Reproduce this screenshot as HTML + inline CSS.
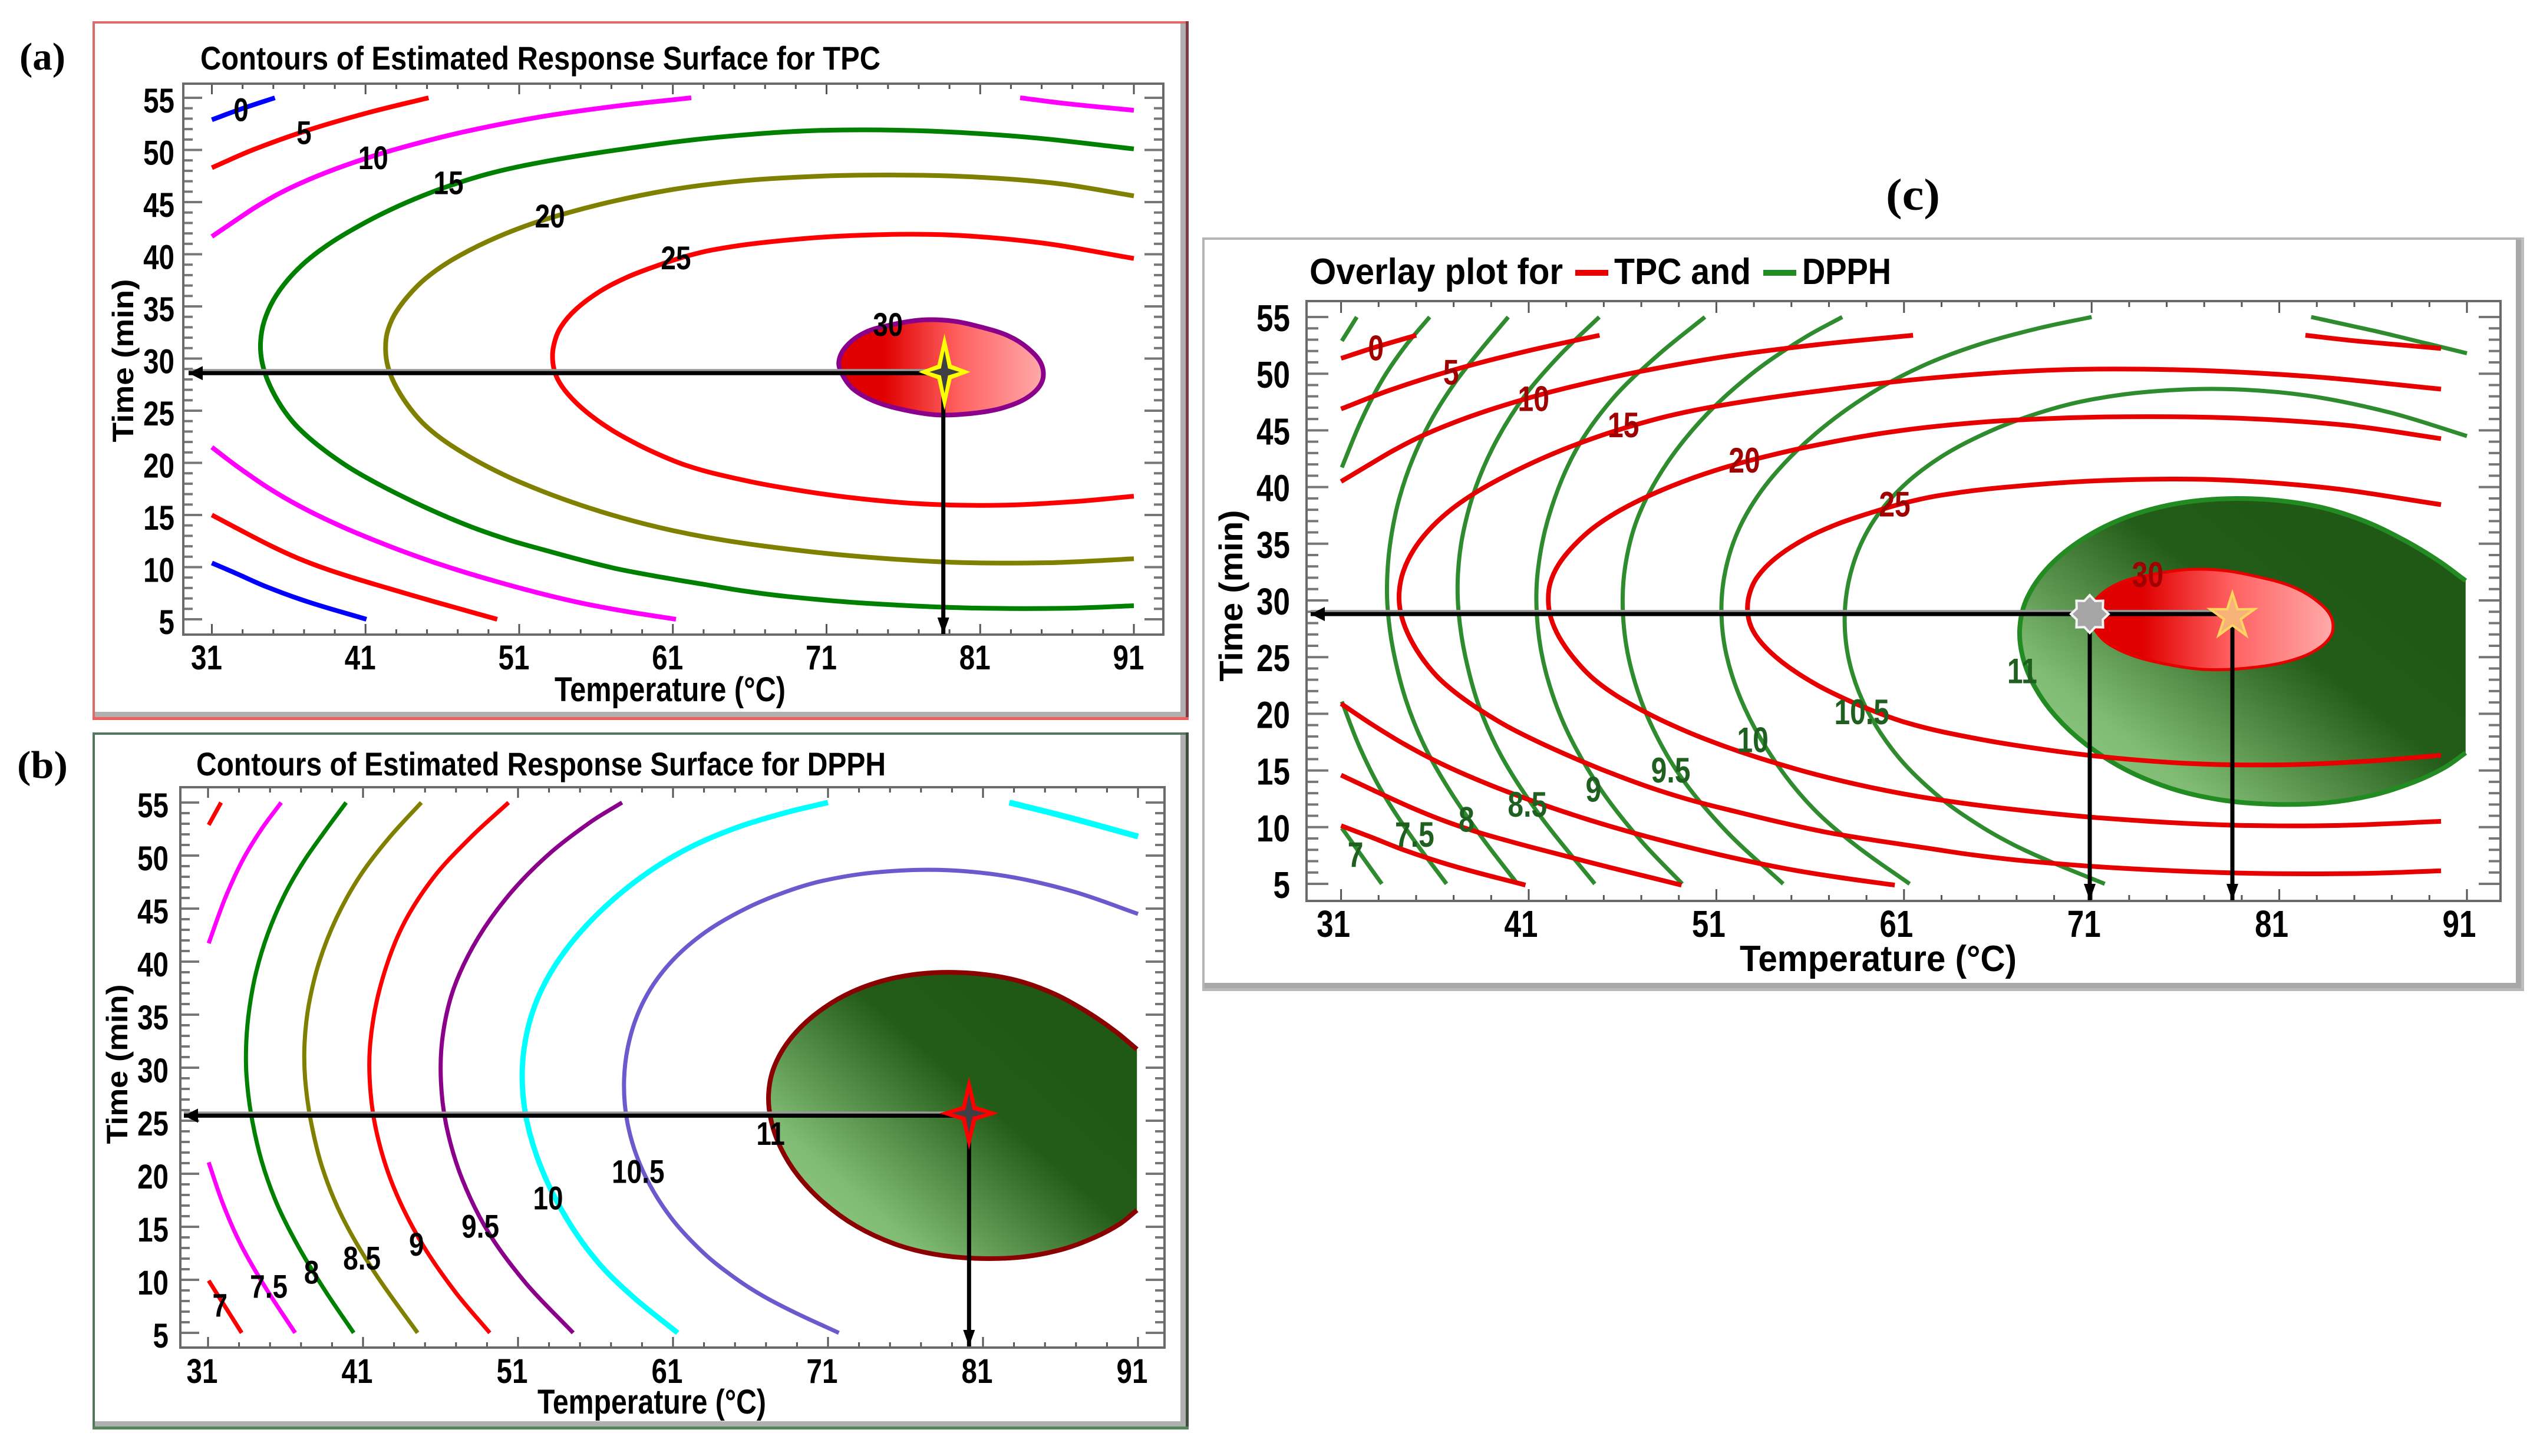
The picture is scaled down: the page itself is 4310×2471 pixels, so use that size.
<!DOCTYPE html>
<html lang="en">
<head>
<meta charset="utf-8">
<title>Contour plots for TPC and DPPH</title>
<style>
html,body{margin:0;padding:0;background:#fff;}
svg{display:block;}
text{font-family:"Liberation Sans",sans-serif;}
</style>
</head>
<body>
<svg id="figure" xmlns="http://www.w3.org/2000/svg" width="4310" height="2471" viewBox="0 0 4310 2471">
<defs>
<linearGradient id="redFill" x1="0" y1="0" x2="1" y2="0">
<stop offset="0" stop-color="#e00000"/><stop offset="0.22" stop-color="#e00000"/><stop offset="0.58" stop-color="#ff6060"/><stop offset="1" stop-color="#ffaaaa"/>
</linearGradient>
<linearGradient id="greenFill" x1="0.12" y1="0.88" x2="0.78" y2="0.3">
<stop offset="0" stop-color="#8cc67e"/><stop offset="0.18" stop-color="#80bb73"/><stop offset="0.72" stop-color="#235c18"/><stop offset="1" stop-color="#205816"/>
</linearGradient>
</defs>
<rect x="0" y="0" width="4310" height="2471" fill="#ffffff"/>
<g id="panelA"></g>
<g id="panelB"></g>
<g id="panelC"></g>
</svg>
<script>
// ---- tick labels ----
const xTickLabels = [31, 41, 51, 61, 71, 81, 91];
const yTickLabels = [5, 10, 15, 20, 25, 30, 35, 40, 45, 50, 55];

// ---- TPC contours [temperature, time] ----
const tpc0Upper = [[31,52.9],[32.75,53.9],[35.1,55]];
const tpc0Lower = [[31,10.4],[32.55,9.48],[34.31,8.18],[36.85,6.74],[41.06,5]];
const tpc5Upper = [[31,48.3],[33.3,49.9],[37,51.9],[41.3,53.7],[45.1,55]];
const tpc5Lower = [[31,15],[32.55,13.8],[34.9,11.93],[36.46,10.92],[38.42,9.76],[40.37,8.9],[42.33,8.04],[45.27,6.74],[49.57,5]];
const tpc10Upper = [[31,41.7],[32.55,43.2],[33.72,44.5],[35.48,45.94],[37.44,47.38],[40.77,49.11],[42.3,49.8],[47.3,51.9],[52.3,53.2],[57.3,54.3],[62.2,55]];
const tpc10Lower = [[31,21.5],[32.55,19.71],[34.5,17.69],[36.46,15.96],[39.2,13.95],[41.94,12.36],[44.68,10.77],[46.63,9.91],[49.37,8.61],[52.11,7.6],[55.05,6.45],[57.98,5.73],[61.2,5]];
const tpc10Right = [[83.6,55],[85.8,54.5],[91,53.8]];
const tpc15 = [[91,50.1],[84.4,51.4],[76.4,52],[70.3,52],[63.3,51.4],[56.2,49.7],[52.11,48.83],[49.18,47.9],[46.24,46.52],[44.29,45.37],[41.94,43.92],[39.98,42.2],[38.42,40.9],[37.05,39.3],[35.88,37.6],[34.9,35.6],[34.31,33.55],[34.08,31.53],[34.21,29.8],[34.5,28.07],[35.29,25.76],[36.27,23.75],[37.24,22.45],[38.61,20.86],[39.98,19.42],[41.94,17.84],[44.29,16.11],[46.24,14.81],[48.2,13.66],[50.35,12.5],[52.7,11.64],[54.85,10.77],[57.2,9.76],[60.33,9.04],[63.22,8.3],[65.3,7.75],[68,7.2],[72.4,6.6],[79.9,5.9],[87.4,6],[91,6.3]];
const tpc20 = [[91,45.6],[86.4,47],[79.9,47.6],[72.4,47.7],[67,47.3],[63.22,46.72],[60.9,46.23],[57.2,45.22],[53.97,43.92],[51.33,42.77],[49.18,41.47],[46.24,39.31],[44.87,37.73],[43.7,36],[42.72,34.12],[42.33,32.39],[42.23,30.81],[42.43,29.22],[42.72,27.78],[43.7,25.48],[44.68,23.75],[45.85,22.3],[47.42,20.86],[48.79,19.71],[50.74,18.27],[53.68,16.54],[57,14.95],[59.94,13.8],[63.22,12.79],[66.3,12.1],[72.4,11],[78.9,10.3],[85.9,10.3],[91,10.8]];
const tpc25 = [[91,39.6],[84.9,41.4],[78.4,42.1],[72.4,41.9],[66.3,41.2],[63.22,40.32],[61.89,39.9],[59.94,38.88],[57.98,37.87],[56.42,36.72],[54.46,34.7],[53.58,32.97],[53.13,31.24],[53.13,29.51],[53.38,28.07],[54.07,26.63],[55.24,24.9],[57,23.02],[58.76,21.73],[60.33,20.57],[61.89,19.71],[63.22,19.1],[67.3,17.7],[72.4,16.6],[77.4,15.9],[82.4,15.8],[87.4,16.25],[91,16.8]];
const tpc30 = [[71.8,29.7],[72.3,31.2],[73.5,32.5],[75.1,33.2],[77.2,33.7],[79.2,33.6],[81.1,33],[82.8,32.2],[84.1,31],[85,29.4],[85,27.7],[84,26.2],[82.3,25.2],[80.2,24.7],[78.2,24.6],[76.3,25],[74.3,25.8],[72.8,27],[72.05,28.4]];
const tpcLabelTexts = ['0','5','10','15','20','25','30'];
const tpcLabelPoints = [[32.9,53.9],[37,51.7],[41.5,49.3],[46.4,46.9],[53,43.7],[61.2,39.7],[75,33.3]];
const tpcOptimum = [78.6, 28.6];

// ---- DPPH contours [temperature, time] ----
const dpph7Upper = [[31.04,52.89],[31.84,55]];
const dpph7Lower = [[31.04,9.92],[33.17,5]];
const dpph75Upper = [[31.04,41.73],[32.08,46.23],[33.17,49.56],[34.39,52.56],[35.72,55]];
const dpph75Lower = [[31.04,21.08],[31.96,16.91],[32.93,13.58],[34.63,9.25],[36.62,5]];
const dpph8 = [[39.91,55],[38.51,52.22],[37.05,49.39],[35.84,46.23],[34.75,42.56],[34.02,38.9],[33.61,35.57],[33.42,32.24],[33.42,29.57],[33.66,25.91],[34.39,20.91],[35.36,17.25],[36.57,13.58],[38.51,8.92],[40.4,5]];
const dpph85 = [[44.76,55],[42.63,51.72],[40.69,48.23],[39.24,44.23],[38.02,39.9],[37.42,35.9],[37.17,32.24],[37.17,29.24],[37.54,25.24],[38.27,20.24],[39.48,16.25],[41.42,10.92],[44.52,5]];
const dpph9 = [[50.39,55],[47.97,51.89],[45.3,47.89],[43.36,43.56],[41.9,37.57],[41.3,31.9],[41.37,27.91],[41.9,22.91],[42.87,18.58],[44.81,12.92],[47,8.59],[49.18,5]];
const dpph95 = [[57.71,55],[56.21,53.82],[52.81,50.22],[50.63,46.89],[48.21,42.23],[46.63,37.57],[46.03,32.9],[45.9,28.9],[46.27,24.24],[47.24,19.58],[48.93,14.25],[51.36,9.59],[54.56,5]];
const dpph10Main = [[71,55],[68.53,54.22],[64.94,52.72],[62.03,50.89],[59.12,48.39],[56.21,44.9],[53.78,40.9],[52.33,37.23],[51.48,33.57],[51.12,29.57],[51.36,25.24],[52.33,20.58],[54.03,15.58],[56.21,11.25],[58.15,8.59],[61.3,5]];
const dpph10Right = [[82.7,55],[86.2,53.8],[89.2,52.5],[91,51.8]];
const dpph105 = [[91,44.5],[87.2,46.7],[82.2,48.4],[78.2,48.8],[73.7,48.6],[70.3,47.6],[68.53,46.73],[65.67,45.23],[63,42.9],[60.82,40.23],[59.12,36.9],[58.15,33.24],[57.66,28.9],[57.91,24.58],[58.88,20.24],[60.57,15.91],[63,12.25],[65.18,9.92],[66.88,8.35],[68.53,7.09],[71.7,5]];
const dpph11 = [[90.93,31.74],[89.66,33.43],[87.84,35.2],[85.66,37.1],[83.3,38.4],[80.56,38.98],[77.83,39.12],[75.1,38.6],[72.38,37.3],[70.2,35.3],[68.37,32.73],[67.37,30.15],[67.06,27.57],[67.19,25.2],[67.83,22.4],[68.92,19.84],[70.56,17.26],[72.74,14.88],[75.29,13.19],[77.83,12.3],[80.2,11.94],[83.66,11.94],[86,12.7],[88.39,14],[90,15.27],[90.93,16.56]];
const dpphLabelTexts = ['7','7.5','8','8.5','9','9.5','10','10.5','11'];
const dpphLabelPoints = [[31.77,7.65],[34.92,9.42],[37.68,10.75],[40.93,12.08],[44.45,13.4],[48.57,15.08],[52.94,17.75],[58.75,20.24],[67.3,23.84]];
const dpphOptimum = [80.1, 25.7];

// ---- overlay optimum ----
const overlayTpcPoint = [78.5, 28.8];
const overlayDpphPoint = [70.9, 28.8];

const SVGNS = 'http://www.w3.org/2000/svg';
function make(tag, parent, name) {
  const el = document.createElementNS(SVGNS, tag);
  
  
  parent.appendChild(el);
  return el;
}
function setAll(el, attrs) { for (const k in attrs) el.setAttribute(k, attrs[k]); return el; }

function axisScale(a) {
  const sx = (a.x91 - a.x31) / 60, sy = (a.y5 - a.y55) / 50;
  return {
    x: T => a.x31 + (T - 31) * sx,
    y: t => a.y55 + (55 - t) * sy
  };
}
function smooth(points, closed) {
  const n = points.length;
  const get = i => closed ? points[(i + n) % n] : points[Math.max(0, Math.min(n - 1, i))];
  const unit = (a, b) => {
    const dx = b[0] - a[0], dy = b[1] - a[1], l = Math.hypot(dx, dy) || 1;
    return [dx / l, dy / l];
  };
  let d = 'M' + points[0][0].toFixed(1) + ' ' + points[0][1].toFixed(1);
  const last = closed ? n : n - 1;
  for (let i = 0; i < last; i++) {
    const p0 = get(i - 1), p1 = get(i), p2 = get(i + 1), p3 = get(i + 2);
    const seg = Math.hypot(p2[0] - p1[0], p2[1] - p1[1]) / 3;
    const t1 = unit(p0, p2), t2 = unit(p1, p3);
    const c1 = [p1[0] + t1[0] * seg, p1[1] + t1[1] * seg];
    const c2 = [p2[0] - t2[0] * seg, p2[1] - t2[1] * seg];
    d += 'C' + c1[0].toFixed(1) + ' ' + c1[1].toFixed(1) + ' ' + c2[0].toFixed(1) + ' ' + c2[1].toFixed(1) + ' ' + p2[0].toFixed(1) + ' ' + p2[1].toFixed(1);
  }
  return d + (closed ? 'Z' : '');
}
function project(series, s) { return series.map(p => [s.x(p[0]), s.y(p[1])]); }
// light rendering-side relaxation so hand-read points do not wobble
function relax(pts) {
  return pts.map((p, i) => {
    if (i === 0 || i === pts.length - 1) return p;
    const a = pts[i - 1], b = pts[i + 1];
    return [(a[0] + 2 * p[0] + b[0]) / 4, (a[1] + 2 * p[1] + b[1]) / 4];
  });
}

function contour(parent, series, s, color, width, name) {
  const el = make('path', parent, name);
  setAll(el, {d: smooth(relax(project(series, s)), false), fill: 'none', stroke: color, 'stroke-width': width, 'stroke-linejoin': 'round'});
  return el;
}
function filled(parent, series, s, fill, stroke, width, closedStroke, name) {
  const pts = relax(project(series, s));
  const area = make('path', parent, name + '-fill');
  setAll(area, {d: smooth(pts, false) + 'Z', fill: fill, stroke: closedStroke ? stroke : 'none', 'stroke-width': width});
  if (!closedStroke) {
    const edge = make('path', parent, name + '-outline');
    setAll(edge, {d: smooth(pts, false), fill: 'none', stroke: stroke, 'stroke-width': width});
  }
}
function txt(parent, x, y, str, o, name) {
  const el = make('text', parent, name);
  setAll(el, {x: x, y: y, 'font-size': o.size, 'font-weight': 'bold', fill: o.color || '#000', 'text-anchor': o.anchor || 'start'});
  if (o.serif) el.setAttribute('style', 'font-family:"Liberation Serif",serif');
  el.textContent = str;
  if (o.rot) el.setAttribute('transform', 'rotate(-90 ' + x + ' ' + y + ')');
  let len = o.len;
  if (!len && o.squeeze) len = el.getComputedTextLength() * o.squeeze;
  if (len) { el.setAttribute('textLength', len); el.setAttribute('lengthAdjust', 'spacingAndGlyphs'); }
  return el;
}
function rect(parent, x, y, w, h, fill, name) {
  const el = make('rect', parent, name);
  setAll(el, {x: x, y: y, width: w, height: h, fill: fill});
  return el;
}
function frame(parent, f) {
  rect(parent, f.x0, f.y0, f.x1 - f.x0, f.y1 - f.y0, '#ffffff', 'frame-background');
  rect(parent, f.x1 - f.band - f.edge, f.y0 + 4, f.band, f.y1 - f.y0 - 4, f.bandColor, 'frame-right-shadow');
  rect(parent, f.x0, f.y1 - f.band - f.edge, f.x1 - f.x0, f.band, f.bandColor, 'frame-bottom-shadow');
  rect(parent, f.x0, f.y0, f.x1 - f.x0, 4, f.top, 'frame-top-edge');
  rect(parent, f.x0, f.y0, 4, f.y1 - f.y0, f.top, 'frame-left-edge');
  rect(parent, f.x1 - f.edge, f.y0, f.edge, f.y1 - f.y0, f.right, 'frame-right-edge');
  rect(parent, f.x0, f.y1 - f.edge, f.x1 - f.x0, f.edge, f.bottom, 'frame-bottom-edge');
}
function axes(parent, a, s, t) {
  const g = make('g', parent, 'axes');
  const line = (x1, y1, x2, y2, w, c, name) => {
    const el = make('line', g, name);
    setAll(el, {x1: x1, y1: y1, x2: x2, y2: y2, stroke: c, 'stroke-width': w});
  };
  for (let T = 31; T <= 91; T += 2) {
    const major = xTickLabels.includes(T);
    const len = major ? t.xMajor : t.xMinor;
    line(s.x(T), a.bottom, s.x(T), a.bottom - len, 3, '#555', 'x-tick-bottom');
    line(s.x(T), a.top, s.x(T), a.top + len, 3, '#555', 'x-tick-top');
  }
  for (let v = 5; v <= 55; v += 1) {
    const major = yTickLabels.includes(v);
    const len = major ? t.yMajor : t.yMinor;
    line(a.left, s.y(v), a.left + len, s.y(v), 4, '#777', 'y-tick-left');
    line(a.right, s.y(v), a.right - len, s.y(v), 4, '#777', 'y-tick-right');
  }
  const box = make('rect', g, 'plot-border');
  setAll(box, {x: a.left, y: a.top, width: a.right - a.left, height: a.bottom - a.top, fill: 'none', stroke: '#6a6a6a', 'stroke-width': 4});
  xTickLabels.forEach(v => txt(parent, s.x(v) + t.xOff, t.xBase, String(v), {size: t.size, anchor: 'middle', squeeze: t.squeeze}, 'x-tick-label-' + v));
  yTickLabels.forEach(v => txt(parent, t.yRight, s.y(v) + t.yBase, String(v), {size: t.size, anchor: 'end', squeeze: t.squeeze}, 'y-tick-label-' + v));
}
function arrowLeft(parent, x0, x1, y, name) {
  const halo = make('line', parent, name + '-halo');
  setAll(halo, {x1: x0, y1: y - 2, x2: x1, y2: y - 2, stroke: '#999', 'stroke-width': 10});
  const l = make('line', parent, name);
  setAll(l, {x1: x0, y1: y, x2: x1, y2: y, stroke: '#000', 'stroke-width': 7});
  const h = make('polygon', parent, name + '-head');
  setAll(h, {points: x0 + ',' + y + ' ' + (x0 + 24) + ',' + (y - 12) + ' ' + (x0 + 24) + ',' + (y + 12), fill: '#000'});
}
function arrowDown(parent, x, y0, y1, name) {
  const l = make('line', parent, name);
  setAll(l, {x1: x, y1: y0, x2: x, y2: y1, stroke: '#000', 'stroke-width': 7});
  const h = make('polygon', parent, name + '-head');
  setAll(h, {points: x + ',' + y1 + ' ' + (x - 10) + ',' + (y1 - 28) + ' ' + (x + 10) + ',' + (y1 - 28), fill: '#000'});
}
function fourStar(cx, cy, rx, ry, inner) {
  return [[cx, cy - ry], [cx + inner, cy - inner], [cx + rx, cy], [cx + inner, cy + inner], [cx, cy + ry], [cx - inner, cy + inner], [cx - rx, cy], [cx - inner, cy - inner]].map(p => p.join(',')).join(' ');
}
function spark(parent, cx, cy, rx, ry, outer, name) {
  const a = make('polygon', parent, name + '-outer');
  setAll(a, {points: fourStar(cx, cy, rx, ry, 12), fill: outer});
  const b = make('polygon', parent, name + '-inner');
  setAll(b, {points: fourStar(cx, cy, rx * 0.58, ry * 0.56, 6), fill: '#3f3f46'});
}
function polarStar(cx, cy, rOut, rIn, n) {
  const p = [];
  for (let i = 0; i < n * 2; i++) {
    const r = i % 2 ? rIn : rOut, ang = -Math.PI / 2 + i * Math.PI / n;
    p.push((cx + r * Math.cos(ang)).toFixed(1) + ',' + (cy + r * Math.sin(ang)).toFixed(1));
  }
  return p.join(' ');
}

// ---------- Panel A ----------
(function () {
  const root = document.getElementById('panelA');
  const a = {x31: 359.5, x91: 1924, y55: 166, y5: 1051, left: 311, right: 1974, top: 142, bottom: 1077};
  const s = axisScale(a);
  frame(root, {x0: 157, y0: 36, x1: 2017, y1: 1222, edge: 5, band: 9, bandColor: '#b0b0b0', top: '#e06a6a', right: '#7d3c42', bottom: '#ee6060'});
  txt(root, 33, 118, '(a)', {size: 66, serif: true, len: 78}, 'panel-label-a');
  txt(root, 340, 118, 'Contours of Estimated Response Surface for TPC', {size: 56, len: 1154}, 'chart-title');
  axes(root, a, s, {xMajor: 18, xMinor: 9, yMajor: 32, yMinor: 16, size: 58, squeeze: 0.82, xOff: -9, xBase: 1136, yRight: 296, yBase: 25});
  txt(root, 941, 1190, 'Temperature (°C)', {size: 58, len: 392}, 'x-axis-title');
  txt(root, 226, 612, 'Time (min)', {size: 50, anchor: 'middle', rot: true, len: 277}, 'y-axis-title');
  const w = 8;
  contour(root, tpc0Upper, s, '#0000ff', w, 'contour-0-upper');
  contour(root, tpc0Lower, s, '#0000ff', w, 'contour-0-lower');
  contour(root, tpc5Upper, s, '#ff0000', w, 'contour-5-upper');
  contour(root, tpc5Lower, s, '#ff0000', w, 'contour-5-lower');
  contour(root, tpc10Upper, s, '#ff00ff', w, 'contour-10-upper');
  contour(root, tpc10Lower, s, '#ff00ff', w, 'contour-10-lower');
  contour(root, tpc10Right, s, '#ff00ff', w, 'contour-10-right');
  contour(root, tpc15, s, '#008000', w, 'contour-15');
  contour(root, tpc20, s, '#808000', w, 'contour-20');
  contour(root, tpc25, s, '#ff0000', w, 'contour-25');
  const el = make('path', root, 'contour-30-region');
  setAll(el, {d: smooth(project(tpc30, s), true), fill: 'url(#redFill)', stroke: '#8b008b', 'stroke-width': 8});
  const ox = s.x(tpcOptimum[0]), oy = s.y(tpcOptimum[1]);
  arrowLeft(root, 320, ox, oy, 'time-arrow');
  arrowDown(root, ox, oy, 1076, 'temperature-arrow');
  spark(root, ox + 2, oy - 2, 44, 65, '#ffff00', 'optimum-marker');
  tpcLabelTexts.forEach((v, i) => txt(root, s.x(tpcLabelPoints[i][0]), s.y(tpcLabelPoints[i][1]) + 20, v, {size: 56, anchor: 'middle', squeeze: 0.82}, 'contour-label-' + v));
})();

// ---------- Panel B ----------
(function () {
  const root = document.getElementById('panelB');
  const a = {x31: 353, x91: 1931, y55: 1362, y5: 2262, left: 306, right: 1976, top: 1336, bottom: 2287};
  const s = axisScale(a);
  frame(root, {x0: 157, y0: 1243, x1: 2017, y1: 2426, edge: 5, band: 9, bandColor: '#b0b0b0', top: '#52785a', right: '#3f4f3f', bottom: '#52855a'});
  txt(root, 29, 1320, '(b)', {size: 66, serif: true, len: 86}, 'panel-label-b');
  txt(root, 333, 1316, 'Contours of Estimated Response Surface for DPPH', {size: 56, len: 1170}, 'chart-title');
  axes(root, a, s, {xMajor: 18, xMinor: 9, yMajor: 32, yMinor: 16, size: 58, squeeze: 0.82, xOff: -10, xBase: 2347, yRight: 286, yBase: 25});
  txt(root, 912, 2399, 'Temperature (°C)', {size: 58, len: 388}, 'x-axis-title');
  txt(root, 216, 1806, 'Time (min)', {size: 50, anchor: 'middle', rot: true, len: 271}, 'y-axis-title');
  filled(root, dpph11, s, 'url(#greenFill)', '#8b0000', 8, false, 'contour-11-region');
  const w = 7;
  contour(root, dpph7Upper, s, '#ff0000', w, 'contour-7-upper');
  contour(root, dpph7Lower, s, '#ff0000', w, 'contour-7-lower');
  contour(root, dpph75Upper, s, '#ff00ff', w, 'contour-7-5-upper');
  contour(root, dpph75Lower, s, '#ff00ff', w, 'contour-7-5-lower');
  contour(root, dpph8, s, '#008000', w, 'contour-8');
  contour(root, dpph85, s, '#808000', w, 'contour-8-5');
  contour(root, dpph9, s, '#ff0000', w, 'contour-9');
  contour(root, dpph95, s, '#8b008b', w, 'contour-9-5');
  contour(root, dpph10Main, s, '#00ffff', 9, 'contour-10-main');
  contour(root, dpph10Right, s, '#00ffff', 10, 'contour-10-right');
  contour(root, dpph105, s, '#6a5acd', w, 'contour-10-5');
  const ox = s.x(dpphOptimum[0]), oy = s.y(dpphOptimum[1]);
  arrowLeft(root, 312, ox, oy + 4, 'time-arrow');
  arrowDown(root, ox, oy, 2285, 'temperature-arrow');
  spark(root, ox, oy, 50, 62, '#ff0000', 'optimum-marker');
  dpphLabelTexts.forEach((v, i) => txt(root, s.x(dpphLabelPoints[i][0]), s.y(dpphLabelPoints[i][1]) + 20, v, {size: 56, anchor: 'middle', squeeze: 0.82}, 'contour-label-' + v.replace('.', '-')));
})();

// ---------- Panel C ----------
(function () {
  const root = document.getElementById('panelC');
  const a = {x31: 2275.6, x91: 4186, y55: 538, y5: 1500, left: 2217, right: 4243, top: 511, bottom: 1529};
  const s = axisScale(a);
  const sT = {x: T => s.x(31 + (T - 31) * 0.977), y: t => s.y(53.39 - (55 - t) * 0.97)};
  frame(root, {x0: 2040, y0: 403, x1: 4283, y1: 1682, edge: 5, band: 9, bandColor: '#a8a8a8', top: '#b4b4b4', right: '#bdbdbd', bottom: '#b8b8b8'});
  txt(root, 3200, 356, '(c)', {size: 76, serif: true, len: 92}, 'panel-label-c');
  txt(root, 2222, 482, 'Overlay plot for', {size: 62, len: 430}, 'chart-title');
  rect(root, 2673, 458, 56, 10, '#e60000', 'legend-tpc-swatch');
  txt(root, 2739, 482, 'TPC and', {size: 62, len: 232}, 'legend-tpc-label');
  rect(root, 2992, 458, 56, 10, '#228b22', 'legend-dpph-swatch');
  txt(root, 3058, 482, 'DPPH', {size: 62, len: 151}, 'legend-dpph-label');
  axes(root, a, s, {xMajor: 20, xMinor: 10, yMajor: 37, yMinor: 20, size: 64, squeeze: 0.8, xOff: -13, xBase: 1590, yRight: 2189, yBase: 24});
  txt(root, 2952, 1648, 'Temperature (°C)', {size: 62, len: 470}, 'x-axis-title');
  txt(root, 2108, 1011, 'Time (min)', {size: 56, anchor: 'middle', rot: true, len: 291}, 'y-axis-title');
  filled(root, dpph11, s, 'url(#greenFill)', '#228b22', 8, false, 'dpph-11-region');
  const g = '#2e8b2e', gw = 7;
  [[dpph7Upper, '7-upper'], [dpph7Lower, '7-lower'], [dpph75Upper, '7-5-upper'], [dpph75Lower, '7-5-lower'], [dpph8, '8'], [dpph85, '8-5'], [dpph9, '9'], [dpph95, '9-5'], [dpph10Main, '10-main'], [dpph10Right, '10-right'], [dpph105, '10-5']].forEach(c => contour(root, c[0], s, g, gw, 'dpph-contour-' + c[1]));
  const r = '#e60000', rw = 8;
  [[tpc0Upper, '0-upper'], [tpc0Lower, '0-lower'], [tpc5Upper, '5-upper'], [tpc5Lower, '5-lower'], [tpc10Upper, '10-upper'], [tpc10Lower, '10-lower'], [tpc10Right, '10-right'], [tpc15, '15'], [tpc20, '20'], [tpc25, '25']].forEach(c => contour(root, c[0], sT, r, rw, 'tpc-contour-' + c[1]));
  const el = make('path', root, 'tpc-30-region');
  setAll(el, {d: smooth(project(tpc30, sT), true), fill: 'url(#redFill)', stroke: '#e60000', 'stroke-width': 5});
  const tx = s.x(overlayTpcPoint[0]), dx = s.x(overlayDpphPoint[0]), py = s.y(overlayTpcPoint[1]);
  arrowLeft(root, 2224, tx, py, 'time-arrow');
  arrowDown(root, dx, py, 1528, 'temperature-arrow-dpph');
  arrowDown(root, tx, py, 1528, 'temperature-arrow-tpc');
  const gs = make('polygon', root, 'dpph-optimum-marker');
  setAll(gs, {points: polarStar(dx, py, 32, 24, 8), fill: '#a6a6a6', stroke: '#f4f4f4', 'stroke-width': 4});
  const ys = make('polygon', root, 'tpc-optimum-marker');
  setAll(ys, {points: polarStar(tx, py + 4, 40, 15, 5), fill: '#f7b27a', stroke: '#ffd560', 'stroke-width': 4});
  tpcLabelTexts.forEach((v, i) => txt(root, sT.x(tpcLabelPoints[i][0]), sT.y(tpcLabelPoints[i][1]) + 22, v, {size: 60, anchor: 'middle', squeeze: 0.8, color: '#a00000'}, 'tpc-label-' + v));
  dpphLabelTexts.forEach((v, i) => txt(root, s.x(dpphLabelPoints[i][0]), s.y(dpphLabelPoints[i][1]) + 22, v, {size: 60, anchor: 'middle', squeeze: 0.8, color: '#1f5f1f'}, 'dpph-label-' + v.replace('.', '-')));
})();
</script>
</body>
</html>
